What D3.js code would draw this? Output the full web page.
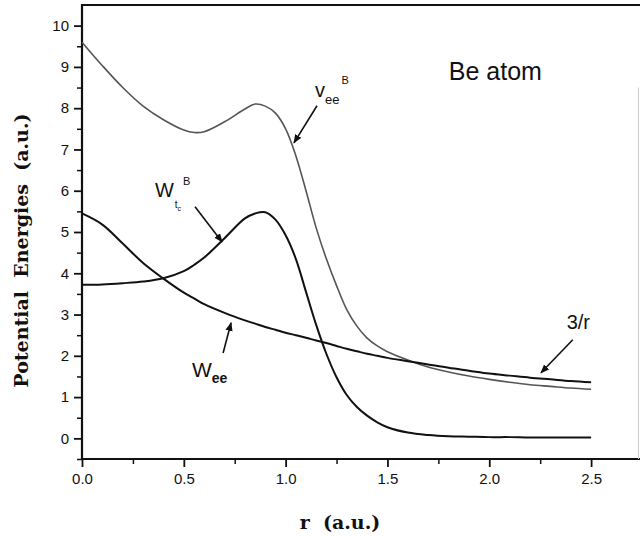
<!DOCTYPE html>
<html>
<head>
<meta charset="utf-8">
<script src="https://cdn.jsdelivr.net/npm/d3@7"></script>
<style>
  body { margin: 0; background: #fff; }
  svg { display: block; }
  .tick text { font-family: "Liberation Sans", Arial, sans-serif; font-size: 15px; fill: #111; }
  .lbl { font-family: "Liberation Sans", Arial, sans-serif; fill: #111; }
  .title { font-family: "DejaVu Serif", serif; font-weight: bold; fill: #111; white-space: pre; }
</style>
</head>
<body>
<script>
var width = 640, height = 536;

// r grid (a.u.)
var rVals = [0, 0.1, 0.2, 0.3, 0.4, 0.5, 0.55, 0.6, 0.7, 0.8, 0.85, 0.9, 0.95, 1.0, 1.05, 1.1, 1.15,
             1.2, 1.25, 1.3, 1.35, 1.4, 1.45, 1.5, 1.6, 1.7, 1.8, 1.9, 2.0, 2.1, 2.2, 2.3, 2.4, 2.5];

// v_ee^B (grey)
var veeB = [9.60, 9.03, 8.50, 8.05, 7.72, 7.47, 7.41, 7.43, 7.67, 7.98, 8.10, 8.05, 7.88, 7.50, 6.85, 6.00, 5.10,
            4.35, 3.70, 3.12, 2.72, 2.43, 2.24, 2.10, 1.90, 1.73, 1.61, 1.51, 1.43, 1.36, 1.30, 1.26, 1.22, 1.19];

// W_tc^B
var wtcB = [3.72, 3.73, 3.76, 3.80, 3.88, 4.05, 4.20, 4.38, 4.85, 5.33, 5.45, 5.48, 5.30, 4.92, 4.35, 3.55, 2.75,
            2.05, 1.48, 1.05, 0.76, 0.55, 0.39, 0.27, 0.14, 0.08, 0.05, 0.04, 0.03, 0.03, 0.02, 0.02, 0.02, 0.02];

// W_ee
var wee = [5.45, 5.18, 4.72, 4.25, 3.87, 3.53, 3.39, 3.25, 3.04, 2.86, 2.78, 2.70, 2.63, 2.56, 2.50, 2.44, 2.37,
           2.31, 2.24, 2.17, 2.11, 2.05, 2.00, 1.95, 1.87, 1.79, 1.71, 1.64, 1.57, 1.52, 1.47, 1.43, 1.39, 1.36];

var xMajor = [0, 0.5, 1.0, 1.5, 2.0, 2.5];
var xMinor = [0.25, 0.75, 1.25, 1.75, 2.25, 2.75];
var yMajor = [0, 1, 2, 3, 4, 5, 6, 7, 8, 9, 10];
var yMinor = [-0.5, 0.5, 1.5, 2.5, 3.5, 4.5, 5.5, 6.5, 7.5, 8.5, 9.5];

var svg = d3.select("body").append("svg")
  .attr("width", width)
  .attr("height", height);

var x = d3.scaleLinear().domain([0, 2.75]).range([82, 642]);
var y = d3.scaleLinear().domain([-0.5, 10.5]).range([459, 5]);

// arrow head
svg.append("defs").append("marker")
  .attr("id", "arr")
  .attr("viewBox", "0 0 10 10")
  .attr("refX", 9).attr("refY", 5)
  .attr("markerWidth", 9).attr("markerHeight", 9)
  .attr("markerUnits", "userSpaceOnUse")
  .attr("orient", "auto")
  .append("path")
  .attr("d", "M0,1 L10,5 L0,9 Z")
  .attr("fill", "#111");

// minor ticks
svg.append("g")
  .attr("transform", "translate(0," + y.range()[0] + ")")
  .call(d3.axisBottom(x).tickValues(xMinor).tickSize(5).tickFormat(""))
  .call(function(g) { g.select(".domain").remove(); })
  .selectAll("line").attr("stroke", "#111").attr("stroke-width", 1.5);

svg.append("g")
  .attr("transform", "translate(" + x(0) + ",0)")
  .call(d3.axisLeft(y).tickValues(yMinor).tickSize(5).tickFormat(""))
  .call(function(g) { g.select(".domain").remove(); })
  .selectAll("line").attr("stroke", "#111").attr("stroke-width", 1.5);

// major ticks
var xAxis = svg.append("g")
  .attr("transform", "translate(0," + y.range()[0] + ")")
  .call(d3.axisBottom(x).tickValues(xMajor).tickSize(8).tickPadding(6).tickFormat(d3.format(".1f")));
xAxis.select(".domain").remove();
xAxis.selectAll("line").attr("stroke", "#111").attr("stroke-width", 1.8);

var yAxis = svg.append("g")
  .attr("transform", "translate(" + x(0) + ",0)")
  .call(d3.axisLeft(y).tickValues(yMajor).tickSize(8).tickPadding(5).tickFormat(d3.format("d")));
yAxis.select(".domain").remove();
yAxis.selectAll("line").attr("stroke", "#111").attr("stroke-width", 1.8);

// frame
svg.append("path")
  .attr("d", "M" + x(0) + "," + y(-0.5) + "V" + y(10.5) + "H" + width)
  .attr("fill", "none").attr("stroke", "#111").attr("stroke-width", 2.2);
svg.append("path")
  .attr("d", "M" + x(0) + "," + y(-0.5) + "H" + width)
  .attr("fill", "none").attr("stroke", "#111").attr("stroke-width", 2.2);
svg.append("line")
  .attr("x1", 638.5).attr("x2", 638.5)
  .attr("y1", y(8.5)).attr("y2", y(-0.5))
  .attr("stroke", "#ccc").attr("stroke-width", 1);

// curves
var line = d3.line()
  .x(function(d) { return x(d[0]); })
  .y(function(d) { return y(d[1]); })
  .curve(d3.curveCatmullRom.alpha(0.5));

function series(vals) {
  return rVals.map(function(r, i) { return [r, vals[i]]; });
}

svg.append("path").datum(series(veeB))
  .attr("d", line).attr("fill", "none")
  .attr("stroke", "#555").attr("stroke-width", 1.6);
svg.append("path").datum(series(wtcB))
  .attr("d", line).attr("fill", "none")
  .attr("stroke", "#111").attr("stroke-width", 2);
svg.append("path").datum(series(wee))
  .attr("d", line).attr("fill", "none")
  .attr("stroke", "#111").attr("stroke-width", 2);

// annotation arrows (data coords)
var arrows = [
  [1.154, 8.06, 1.041, 7.16],
  [0.555, 5.61, 0.688, 4.76],
  [0.693, 2.07, 0.732, 2.80],
  [2.41, 2.39, 2.254, 1.59]
];
svg.selectAll("line.arrow").data(arrows).enter().append("line")
  .attr("class", "arrow")
  .attr("x1", function(d) { return x(d[0]); })
  .attr("y1", function(d) { return y(d[1]); })
  .attr("x2", function(d) { return x(d[2]); })
  .attr("y2", function(d) { return y(d[3]); })
  .attr("stroke", "#111").attr("stroke-width", 1.6)
  .attr("marker-end", "url(#arr)");

// labels
svg.append("text").attr("class", "lbl")
  .attr("x", x(2.03)).attr("y", y(8.68))
  .attr("text-anchor", "middle").attr("font-size", 25)
  .text("Be atom");

var t1 = svg.append("text").attr("class", "lbl")
  .attr("x", x(1.144)).attr("y", y(8.27));
t1.append("tspan").attr("font-size", 20).text("v");
t1.append("tspan").attr("font-size", 13).attr("dy", 7).text("ee");
t1.append("tspan").attr("font-size", 11).attr("dx", 2).attr("dy", -20).text("B");

var t2 = svg.append("text").attr("class", "lbl")
  .attr("x", x(0.358)).attr("y", y(5.85));
t2.append("tspan").attr("font-size", 20).text("W");
t2.append("tspan").attr("font-size", 10).attr("dx", 1).attr("dy", 11).text("t");
t2.append("tspan").attr("font-size", 7).attr("dy", 3).text("c");
t2.append("tspan").attr("font-size", 11).attr("dx", 2).attr("dy", -26).text("B");

var t3 = svg.append("text").attr("class", "lbl")
  .attr("x", x(0.54)).attr("y", y(1.49));
t3.append("tspan").attr("font-size", 21).text("W");
t3.append("tspan").attr("font-size", 14).attr("font-weight", "bold").attr("dy", 6).text("ee");

svg.append("text").attr("class", "lbl")
  .attr("x", x(2.38)).attr("y", y(2.65))
  .attr("font-size", 20)
  .text("3/r");

// axis titles
svg.append("text").attr("class", "title")
  .attr("x", 340).attr("y", 529)
  .attr("text-anchor", "middle")
  .attr("font-size", 19)
  .text("r  (a.u.)");

svg.append("text").attr("class", "title")
  .attr("transform", "translate(28," + y(4.55) + ") rotate(-90)")
  .attr("text-anchor", "middle")
  .attr("font-size", 19)
  .text("Potential  Energies  (a.u.)");
</script>
</body>
</html>
